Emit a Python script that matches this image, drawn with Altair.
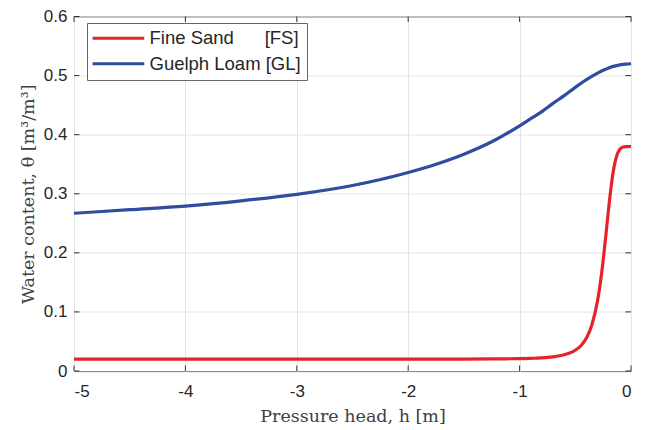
import altair as alt
import pandas as pd

# ---- data ----
h_fs = [-5, -3, -2, -1.5, -1.2, -1, -0.9, -0.8, -0.7, -0.6, -0.55, -0.5, -0.45, -0.4,
        -0.35, -0.3, -0.275, -0.25, -0.225, -0.2, -0.175, -0.15, -0.125, -0.1,
        -0.075, -0.05, 0]
theta_fs = [0.020, 0.020, 0.020, 0.020, 0.0205, 0.021, 0.0215, 0.0223, 0.024, 0.0274,
            0.0304, 0.0351, 0.0428, 0.0558, 0.0787, 0.1192, 0.1494, 0.1871, 0.2309,
            0.2765, 0.3172, 0.3476, 0.3661, 0.3753, 0.3789, 0.3799, 0.380]

h_gl = [-5, -4.5, -4, -3.5, -3, -2.5, -2, -1.75, -1.5, -1.25, -1, -0.9, -0.8, -0.7,
        -0.6, -0.5, -0.4, -0.3, -0.25, -0.2, -0.15, -0.1, -0.05, 0]
theta_gl = [0.267, 0.273, 0.279, 0.288, 0.299, 0.314, 0.336, 0.350, 0.367, 0.388,
            0.415, 0.427, 0.439, 0.453, 0.466, 0.480, 0.493, 0.504, 0.509, 0.513,
            0.516, 0.518, 0.5195, 0.520]

NB = "\u00a0"
series_names = ["Fine Sand" + NB * 6 + "[FS]", "Guelph Loam [GL]"]
series_colors = ["#E8222A", "#2E4D9E"]

x_ticks = [-5, -4, -3, -2, -1, 0]
y_ticks = [0, 0.1, 0.2, 0.3, 0.4, 0.5, 0.6]

PAD_TOP = 8.5
W, H = 557, 354.5
TICK = 5.5

df = pd.concat([
    pd.DataFrame({"h": h_fs, "theta": theta_fs, "soil": series_names[0], "o": range(len(h_fs))}),
    pd.DataFrame({"h": h_gl, "theta": theta_gl, "soil": series_names[1], "o": range(len(h_gl))}),
])
xt = pd.DataFrame({"h": x_ticks})
yt = pd.DataFrame({"theta": y_ticks})

xscale = alt.Scale(domain=[-5, 0], nice=False, zero=False)
yscale = alt.Scale(domain=[0, 0.6], nice=False, zero=False)

axis_common = dict(
    grid=True, gridColor="#e4e4e4", gridWidth=1, ticks=False, tickSize=0, domain=False,
    labelFont="Liberation Sans", labelFontSize=17, labelColor="#262626",
    titleFont="DejaVu Serif", titleFontSize=17.5, titleFontWeight="normal",
    titleColor="#404040", titleBaseline="alphabetic", titleAlign="center",
)
xaxis = alt.Axis(title="Pressure head, h [m]", values=x_ticks,
                 labelExpr="datum.value + ''", labelPadding=12,
                 titleX=W / 2, titleY=50.7, **axis_common)
yaxis = alt.Axis(title="Water content, θ [m³/m³]", values=y_ticks,
                 format="~g", labelPadding=7,
                 titleX=-40.5, titleY=H / 2, titleAngle=270, **axis_common)

lines = alt.Chart(df).mark_line(strokeWidth=3.2, interpolate="monotone").encode(
    x=alt.X("h:Q", scale=xscale, axis=xaxis),
    y=alt.Y("theta:Q", scale=yscale, axis=yaxis),
    color=alt.Color("soil:N",
                    scale=alt.Scale(domain=series_names, range=series_colors),
                    legend=alt.Legend(orient="none", legendX=13, legendY=23 - 8 - PAD_TOP,
                                      title=None,
                                      symbolType="M-1.94,0H8.4", symbolSize=100,
                                      symbolStrokeWidth=3, symbolFillColor="transparent",
                                      labelFont="Liberation Sans", labelFontSize=18.5,
                                      labelColor="#262626", labelOffset=38, labelLimit=300,
                                      rowPadding=6.5, padding=6, strokeColor="#666",
                                      fillColor="white")),
    order="o:Q",
)

tick_style = dict(color="#333333", strokeWidth=1)
xb = alt.Chart(xt).mark_rule(**tick_style).encode(
    x=alt.X("h:Q", scale=xscale, axis=xaxis), y=alt.value(H), y2=alt.value(H - TICK))
xtp = alt.Chart(xt).mark_rule(**tick_style).encode(
    x=alt.X("h:Q", scale=xscale, axis=xaxis), y=alt.value(0), y2=alt.value(TICK))
yl = alt.Chart(yt).mark_rule(**tick_style).encode(
    y=alt.Y("theta:Q", scale=yscale, axis=yaxis), x=alt.value(0), x2=alt.value(TICK))
yr = alt.Chart(yt).mark_rule(**tick_style).encode(
    y=alt.Y("theta:Q", scale=yscale, axis=yaxis), x=alt.value(W), x2=alt.value(W - TICK))

chart = alt.layer(lines, xb, xtp, yl, yr).properties(
    width=W, height=H,
    autosize=alt.AutoSizeParams(type="none"),
    padding={"left": 66, "top": PAD_TOP, "right": 19, "bottom": 58},
    background="white",
).configure_view(stroke="#333333", strokeWidth=1)

chart.save("out.html", embed_options={"renderer": "svg", "actions": False})
